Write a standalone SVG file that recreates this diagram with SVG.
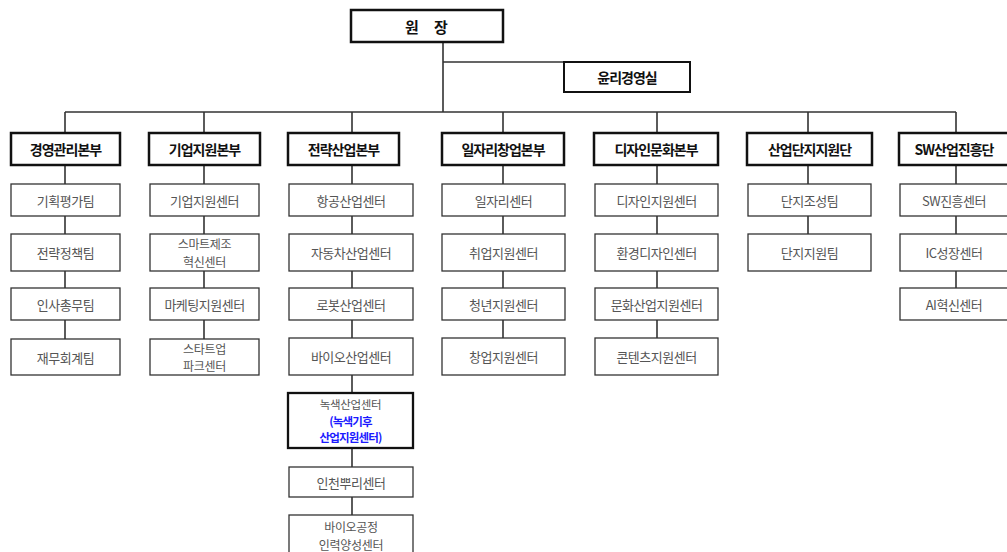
<svg xmlns="http://www.w3.org/2000/svg" width="1007" height="552" viewBox="0 0 1007 552">
<style>
.top{fill:#fff;stroke:#111;stroke-width:2.5}
.hd{fill:#fff;stroke:#111;stroke-width:2.5}
.sb{fill:#fff;stroke:#333;stroke-width:1.3}
.ln{stroke:#333;stroke-width:1.6;fill:none}
text{font-family:"Noto Sans CJK KR","Noto Sans",sans-serif;text-anchor:middle;dominant-baseline:central}
.th{font-size:15px;font-weight:700;fill:#111}
.h{font-size:14px;font-weight:700;fill:#111;letter-spacing:-1px}
.s{font-size:13px;fill:#555;letter-spacing:-0.5px}
.m{font-size:12px;fill:#555;letter-spacing:-0.3px}
.t{font-size:11.5px;fill:#555;letter-spacing:-0.3px}
.b{font-weight:700;fill:#1a1aff;letter-spacing:-0.8px}
</style>
<g id="connectors">
<path class="ln" d="M443 42V112M443 62H564M65 112H956"/>
<path class="ln" d="M65 112V133M204 112V133M352 112V133M503 112V133M657 112V133M808 112V133M956 112V133"/>
<path class="ln" d="M65 165V339"/>
<path class="ln" d="M204 165V339"/>
<path class="ln" d="M352 165V515"/>
<path class="ln" d="M503 165V338"/>
<path class="ln" d="M657 165V338"/>
<path class="ln" d="M808 165V234"/>
<path class="ln" d="M956 165V288"/>
</g>
<g id="director"><rect class="top" x="351" y="10" width="152" height="32"/><text class="th" y="26"><tspan x="412">원</tspan><tspan x="441">장</tspan></text></g>
<g id="ethics"><rect class="top" x="564" y="62" width="126" height="30" style="stroke-width:2"/><text class="h" x="627" y="77">윤리경영실</text></g>

<g id="col1">
<rect class="hd" x="11" y="133" width="109" height="32"/><text class="h" x="65.5" y="149">경영관리본부</text>
<rect class="sb" x="11" y="184" width="109" height="32"/><text class="s" x="65.5" y="200">기획평가팀</text>
<rect class="sb" x="11" y="234" width="109" height="37"/><text class="s" x="65.5" y="252.5">전략정책팀</text>
<rect class="sb" x="11" y="288" width="109" height="32"/><text class="s" x="65.5" y="304">인사총무팀</text>
<rect class="sb" x="11" y="339" width="109" height="36"/><text class="s" x="65.5" y="357">재무회계팀</text>
</g>
<g id="col2">
<rect class="hd" x="149" y="133" width="111" height="32"/><text class="h" x="204.5" y="149">기업지원본부</text>
<rect class="sb" x="150" y="184" width="109" height="32"/><text class="s" x="204.5" y="200">기업지원센터</text>
<rect class="sb" x="150" y="234" width="109" height="37"/><text class="m" x="204.5" y="243.8">스마트제조</text><text class="m" x="204.5" y="261.3">혁신센터</text>
<rect class="sb" x="150" y="288" width="109" height="32"/><text class="s" x="204.5" y="304">마케팅지원센터</text>
<rect class="sb" x="150" y="339" width="109" height="36"/><text class="m" x="204.5" y="348.3">스타트업</text><text class="m" x="204.5" y="365.8">파크센터</text>
</g>
<g id="col3">
<rect class="hd" x="288" y="133" width="111" height="32"/><text class="h" x="343.5" y="149">전략산업본부</text>
<rect class="sb" x="289" y="184" width="124" height="32"/><text class="s" x="351" y="200">항공산업센터</text>
<rect class="sb" x="289" y="234" width="124" height="37"/><text class="s" x="351" y="252.5">자동차산업센터</text>
<rect class="sb" x="289" y="288" width="124" height="32"/><text class="s" x="351" y="304">로봇산업센터</text>
<rect class="sb" x="289" y="338" width="124" height="37"/><text class="s" x="351" y="356.5">바이오산업센터</text>
<rect class="hd" x="288" y="393" width="125" height="55" style="stroke-width:2.3"/><text class="t" x="350.5" y="403.8">녹색산업센터</text><text class="t b" x="350.5" y="420.6">(녹색기후</text><text class="t b" x="350.5" y="437.4">산업지원센터)</text>
<rect class="sb" x="289" y="467" width="124" height="30"/><text class="s" x="351" y="482">인천뿌리센터</text>
<rect class="sb" x="289" y="515" width="124" height="45"/><text class="m" x="351" y="526.5">바이오공정</text><text class="m" x="351" y="544">인력양성센터</text>
</g>
<g id="col4">
<rect class="hd" x="442" y="133" width="122" height="32"/><text class="h" x="503" y="149">일자리창업본부</text>
<rect class="sb" x="442" y="184" width="123" height="32"/><text class="s" x="503.5" y="200">일자리센터</text>
<rect class="sb" x="442" y="234" width="123" height="37"/><text class="s" x="503.5" y="252.5">취업지원센터</text>
<rect class="sb" x="442" y="288" width="123" height="32"/><text class="s" x="503.5" y="304">청년지원센터</text>
<rect class="sb" x="442" y="338" width="123" height="37"/><text class="s" x="503.5" y="356.5">창업지원센터</text>
</g>
<g id="col5">
<rect class="hd" x="594" y="133" width="124" height="32"/><text class="h" x="656" y="149">디자인문화본부</text>
<rect class="sb" x="595" y="184" width="123" height="32"/><text class="s" x="656.5" y="200">디자인지원센터</text>
<rect class="sb" x="595" y="234" width="123" height="37"/><text class="s" x="656.5" y="252.5">환경디자인센터</text>
<rect class="sb" x="595" y="288" width="123" height="32"/><text class="s" x="656.5" y="304">문화산업지원센터</text>
<rect class="sb" x="595" y="338" width="123" height="37"/><text class="s" x="656.5" y="356.5">콘텐츠지원센터</text>
</g>
<g id="col6">
<rect class="hd" x="747" y="133" width="125" height="32"/><text class="h" x="809.5" y="149">산업단지지원단</text>
<rect class="sb" x="748" y="184" width="123" height="32"/><text class="s" x="809.5" y="200">단지조성팀</text>
<rect class="sb" x="748" y="234" width="123" height="37"/><text class="s" x="809.5" y="252.5">단지지원팀</text>
</g>
<g id="col7">
<rect class="hd" x="899" y="133" width="115" height="32"/><text class="h" x="954" y="149">SW산업진흥단</text>
<rect class="sb" x="900" y="184" width="112" height="32"/><text class="s" x="954" y="200">SW진흥센터</text>
<rect class="sb" x="900" y="234" width="112" height="37"/><text class="s" x="954" y="252.5">IC성장센터</text>
<rect class="sb" x="900" y="288" width="112" height="32"/><text class="s" x="954" y="304">AI혁신센터</text>
</g>
</svg>
